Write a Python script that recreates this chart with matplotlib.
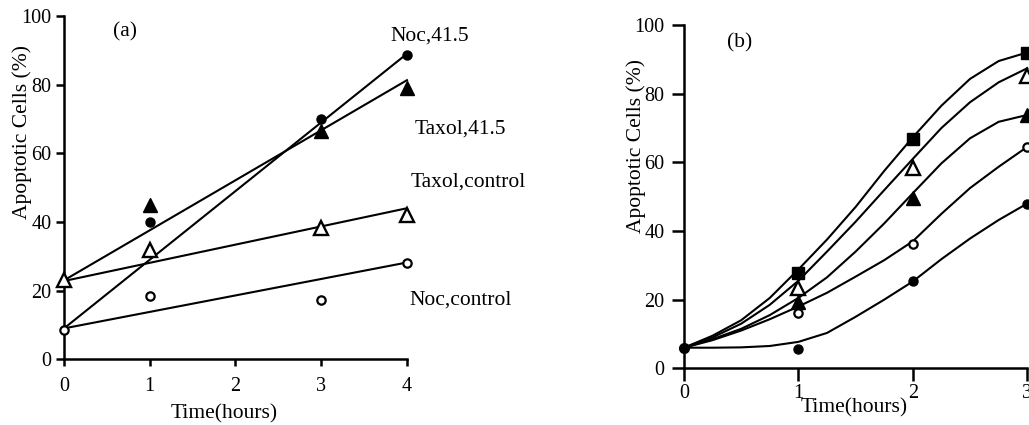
import matplotlib
matplotlib.use('Agg')
import matplotlib.pyplot as plt

plt.rcParams['font.family'] = ['Liberation Serif', 'DejaVu Serif']

# ── Panel (a): measured points and straight trend lines ──────────────────────
a_times = [0, 1, 3, 4]
noc_415 = [None, 40, 70, 88.5]
taxol_415 = [None, 45, 66.5, 79]
taxol_ctrl = [23, 31.7, 38.2, 42]
noc_ctrl = [8.5, 18.3, 17.3, 28]

line_x = [0, 4]
noc_415_line = [9, 89]
taxol_415_line = [23, 81.3]
taxol_ctrl_line = [22.8, 44]
noc_ctrl_line = [9, 28.2]

a_labels = ["Noc,41.5", "Taxol,41.5", "Taxol,control", "Noc,control"]

# ── Panel (b): measured points and fitted curves ─────────────────────────────
b_start = 6          # common value at t = 0 (one filled circle)
b_times = [1, 2, 3]
b_square = [27.7, 66.7, 91.9]
b_open_tri = [23.3, 58.3, 85.1]
b_fill_tri = [19.4, 49.5, 73.8]
b_open_circ = [16, 36.1, 64.6]
b_fill_circ = [5.6, 25.5, 48]

curve_x = [0, 0.25, 0.5, 0.75, 1, 1.25, 1.5, 1.75, 2, 2.25, 2.5, 2.75, 3]
curve_square = [6, 9.5, 14, 20.5, 28.8, 37.5, 47, 57.5, 67.3, 76.5, 84.3, 89.5, 92]
curve_open_tri = [6, 9, 13, 18.5, 25.5, 34, 42.7, 51.9, 61, 70, 77.5, 83.3, 87.4]
curve_fill_tri = [6, 8.5, 11.5, 15.5, 20.5, 26.5, 34, 42.2, 51, 59.7, 67, 71.8, 73.8]
curve_open_circ = [6, 8.2, 11, 14.3, 18, 22, 26.7, 31.5, 37, 45, 52.5, 58.7, 64.5]
curve_fill_circ = [6, 6, 6.1, 6.5, 7.7, 10.3, 15, 20, 25.3, 31.8, 37.8, 43.2, 48]

FS = 15.5
TICK_FS = 14.5
LW = 1.5

fig = plt.figure(figsize=(10.29, 4.25), dpi=100)
ax1 = fig.add_axes([0.0622, 0.1546, 0.3333, 0.8078])
ax2 = fig.add_axes([0.6647, 0.1334, 0.3336, 0.8078])

for ax in (ax1, ax2):
    ax.spines['top'].set_visible(False)
    ax.spines['right'].set_visible(False)
    ax.spines['left'].set_linewidth(1.8)
    ax.spines['bottom'].set_linewidth(1.8)
    ax.set_ylim(0, 100)
    ax.set_yticks([0, 20, 40, 60, 80, 100])
    ax.set_ylabel("Apoptotic Cells (%)", fontsize=FS)
    ax.set_xlabel("Time(hours)", fontsize=FS, va='top')

# ── Panel (a) ────────────────────────────────────────────────────────────────
def pts(xs, ys):
    keep = [(x, y) for x, y in zip(xs, ys) if y is not None]
    return [k[0] for k in keep], [k[1] for k in keep]

for ys in (noc_415_line, taxol_415_line, taxol_ctrl_line, noc_ctrl_line):
    ax1.plot(line_x, ys, color='black', lw=LW, clip_on=False)

x, y = pts(a_times, noc_415)
ax1.plot(x, y, 'o', color='black', ms=6.5, clip_on=False, zorder=3)
x, y = pts(a_times, taxol_415)
ax1.plot(x, y, '^', color='black', ms=10.5, clip_on=False, zorder=3)
ax1.plot(a_times, taxol_ctrl, '^', mfc='white', mec='black', mew=1.7, ms=10.5,
         clip_on=False, zorder=3)
ax1.plot(a_times, noc_ctrl, 'o', mfc='white', mec='black', mew=1.6, ms=6,
         clip_on=False, zorder=3)

ax1.set_xlim(0, 4)
ax1.set_xticks([0, 1, 2, 3, 4])
ax1.tick_params(axis='y', direction='out', length=6, width=1.8, pad=3, labelsize=TICK_FS)
ax1.tick_params(axis='x', direction='out', length=5, width=1.8, pad=8, labelsize=TICK_FS)
ax1.yaxis.set_label_coords(-0.093, 0.662)
ax1.xaxis.set_label_coords(0.466, -0.13)

label_pos = [(4.27, 94.2), (4.62, 67.1), (4.71, 51.6), (4.62, 17.3)]
for txt, (tx, ty) in zip(a_labels, label_pos):
    ax1.text(tx, ty, txt, fontsize=FS, ha='center', va='center', clip_on=False)
ax1.text(0.71, 95.3, "(a)", fontsize=FS, ha='center', va='center')

# ── Panel (b) ────────────────────────────────────────────────────────────────
for cy in (curve_square, curve_open_tri, curve_fill_tri, curve_open_circ, curve_fill_circ):
    ax2.plot(curve_x, cy, color='black', lw=LW, clip_on=False)

ax2.plot(b_times, b_square, 's', color='black', ms=9, clip_on=False, zorder=3)
ax2.plot(b_times, b_open_tri, '^', mfc='white', mec='black', mew=1.7, ms=10.5,
         clip_on=False, zorder=3)
ax2.plot(b_times, b_fill_tri, '^', color='black', ms=10.5, clip_on=False, zorder=3)
ax2.plot(b_times, b_open_circ, 'o', mfc='white', mec='black', mew=1.6, ms=6,
         clip_on=False, zorder=3)
ax2.plot(b_times, b_fill_circ, 'o', color='black', ms=6.5, clip_on=False, zorder=4)
ax2.plot([0], [b_start], 'o', color='black', ms=7, clip_on=False, zorder=4)

ax2.set_xlim(0, 3)
ax2.set_xticks([0, 1, 2, 3])
ax2.tick_params(axis='y', direction='out', length=9, width=1.8, pad=5, labelsize=TICK_FS)
ax2.tick_params(axis='x', direction='out', length=9, width=1.8, pad=2, labelsize=TICK_FS)
ax2.yaxis.set_label_coords(-0.111, 0.648)
ax2.xaxis.set_label_coords(0.495, -0.087)
ax2.text(0.49, 94.8, "(b)", fontsize=FS, ha='center', va='center')

fig.savefig("out.png", dpi=100)
